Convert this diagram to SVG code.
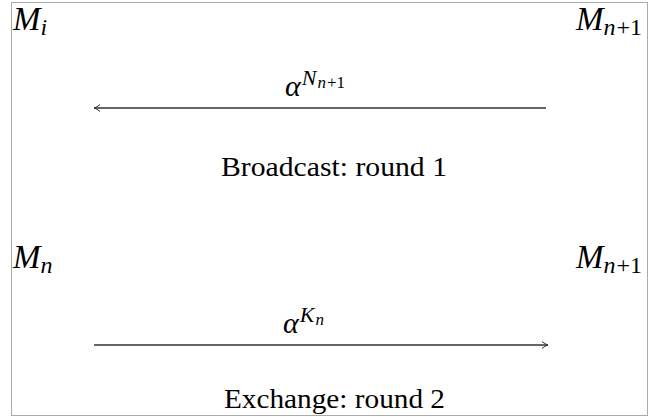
<svg xmlns="http://www.w3.org/2000/svg" width="652" height="417" viewBox="0 0 652 417">
<style>
.m{font-family:"Liberation Serif","DejaVu Serif",serif;font-style:italic;fill:#000}
.up{font-style:normal}
.t{font-family:"Liberation Serif","DejaVu Serif",serif;font-size:28px;fill:#000}
.c{stroke:#333;stroke-width:1.3;fill:none}
</style>
<defs>
<marker id="ah" markerWidth="10" markerHeight="10" refX="8" refY="5" orient="auto" markerUnits="userSpaceOnUse">
<path d="M2,1.5 Q5,4.2 8,5 Q5,5.8 2,8.5" fill="none" stroke="#333" stroke-width="1"/>
</marker>
</defs>
<rect x="11.5" y="2.5" width="636" height="413" fill="#fff" stroke="#aaa" stroke-width="1"/>
<g id="Mi"><text class="m" x="13" y="30" font-size="33">M<tspan font-size="24" dy="5">i</tspan></text></g>
<g id="Mn1top"><text class="m" x="576" y="30" font-size="33">M<tspan font-size="24" dy="5">n</tspan><tspan class="up" font-size="24" dx="1">+1</tspan></text></g>
<g id="Mn"><text class="m" x="13" y="268" font-size="33">M<tspan font-size="24" dy="5">n</tspan></text></g>
<g id="Mn1bot"><text class="m" x="576" y="268" font-size="33">M<tspan font-size="24" dy="5">n</tspan><tspan class="up" font-size="24" dx="1">+1</tspan></text></g>
<g id="connectors">
<line class="c" x1="546" y1="108" x2="94" y2="108" marker-end="url(#ah)"/>
<line class="c" x1="94" y1="345" x2="548" y2="345" marker-end="url(#ah)"/>
</g>
<g id="labels">
<text class="m" x="285" y="96" font-size="30">α<tspan font-size="22" dy="-11" dx="1">N</tspan><tspan font-size="17" dy="3" dx="1">n</tspan><tspan class="up" font-size="17" dx="1">+1</tspan></text>
<text class="m" x="283" y="333" font-size="30">α<tspan font-size="22" dy="-11" dx="1">K</tspan><tspan font-size="17" dy="3" dx="1">n</tspan></text>
<text class="t" x="221" y="176" textLength="226" lengthAdjust="spacingAndGlyphs">Broadcast: round 1</text>
<text class="t" x="224" y="408" textLength="221" lengthAdjust="spacingAndGlyphs">Exchange: round 2</text>
</g>
</svg>
